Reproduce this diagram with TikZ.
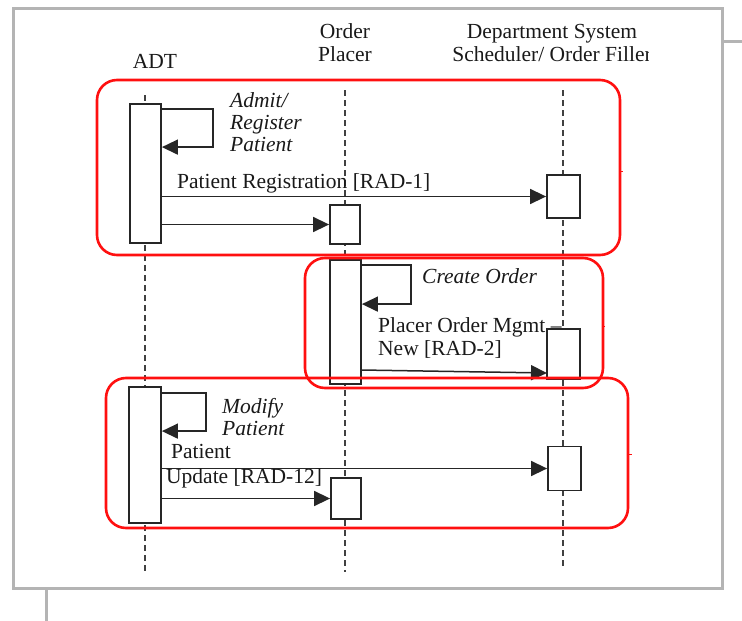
\documentclass[tikz,border=0pt]{standalone}
\usepackage{fontspec}
\setmainfont{Liberation Serif}
\usetikzlibrary{arrows.meta}
\definecolor{framegray}{HTML}{B4B4B4}
\definecolor{redbox}{HTML}{FF1010}
\begin{document}
\begin{tikzpicture}[x=1pt,y=-1pt,
  lifeline/.style={draw=black!75, line width=1.2pt, dash pattern=on 6pt off 4pt},
  act/.style={draw=black!85, line width=1.8pt, fill=white, inner sep=0pt},
  msg/.style={draw=black!85, line width=1.5pt, -{Triangle[length=16pt,width=15pt]}},
  grp/.style={draw=redbox, line width=2.6pt, rounded corners=20pt},
  lbl/.style={font=\fontsize{21.5}{23}\selectfont, inner sep=0pt, align=left, anchor=west, text=black!90},
  ilbl/.style={lbl, font=\fontsize{21.5}{22}\selectfont\itshape},
  hdr/.style={font=\fontsize{21.5}{23}\selectfont, inner sep=0pt, align=center, text=black!90},
]
\useasboundingbox (0,0) rectangle (742,621);
% outer gray frame
\draw[framegray, line width=3pt] (13,8) rectangle (722,588);
\coordinate (stubR1) at (722,41);
\coordinate (stubR2) at (742,41);
\coordinate (stubB1) at (46,588);
\coordinate (stubB2) at (46,621);
\draw[framegray, line width=3pt] (stubR1) -- (stubR2);
\draw[framegray, line width=3pt] (stubB1) -- (stubB2);

% headers
\node[hdr] (hadt) at (155,61) {ADT};
\node[hdr] (hop) at (345,43) {Order\\Placer};
\begin{scope}
\clip (430,15) rectangle (648,70);
\node[hdr] (hds) at (552,43) {Department System\\Scheduler/ Order Filler};
\end{scope}

% lifelines
\coordinate (adtT) at (145,95);  \coordinate (adtB) at (145,573);
\coordinate (opT) at (345,90);   \coordinate (opB) at (345,572);
\coordinate (dsT) at (563,90);   \coordinate (dsB) at (563,568);
\draw[lifeline] (adtT) -- (adtB);
\draw[lifeline] (opT) -- (opB);
\draw[lifeline] (dsT) -- (dsB);

% activation boxes
\node[act, minimum width=31pt, minimum height=139pt] (adt1) at (145.5,173.5) {};
\node[act, minimum width=30pt, minimum height=39pt] (op1) at (345,224.5) {};
\node[act, minimum width=33pt, minimum height=43pt] (ds1) at (563.5,196.5) {};
\node[act, minimum width=31pt, minimum height=124pt] (op2) at (345.5,322) {};
\node[act, minimum width=33pt, minimum height=50pt] (ds2) at (563.5,354) {};
\node[act, minimum width=32pt, minimum height=136pt] (adt2) at (145,455) {};
\node[act, minimum width=33pt, minimum height=44pt] (ds3) at (564.5,468.5) {};
\node[act, minimum width=30pt, minimum height=41pt] (op3) at (346,498.5) {};

% group 1
\draw[msg] ([yshift=-6pt]adt1.north east) -- ++(51,0) -- ++(0,38) -- ++(-51,0);
\node[ilbl] (l1) at (230,122) {Admit/\\Register\\Patient};
\draw[msg] (adt1.east |- ds1.center) -- (ds1.west);
\node[lbl] (l2) at (177,183) {Patient Registration [RAD-1]};
\draw[msg] (adt1.east |- op1.center) -- (op1.west);

% group 2
\draw[msg] ([yshift=-6pt]op2.north east) -- ++(49,0) -- ++(0,39) -- ++(-49,0);
\node[ilbl] (l3) at (422,276) {Create Order};
\coordinate (m2s) at (361,370);
\coordinate (m2e) at (547,373);
\draw[msg] (m2s) -- (m2e);
\node[lbl] (l4) at (378,338) {Placer Order Mgmt –\\New [RAD-2]};

% group 3
\draw[msg] ([yshift=-7pt]adt2.north east) -- ++(44,0) -- ++(0,38) -- ++(-44,0);
\node[ilbl] (l5) at (222,417) {Modify\\Patient};
\draw[msg] (adt2.east |- ds3.center) -- (ds3.west);
\node[lbl, anchor=base west] (l6a) at (171,458) {Patient};
\node[lbl, anchor=base west] (l6b) at (166,483) {Update [RAD-12]};
\draw[msg] (adt2.east |- op3.center) -- (op3.west);

% red groups
\draw[grp] (97,80) rectangle (620,255);
\draw[grp] (305,258) rectangle (603,388);
\draw[grp] (106,378) rectangle (628,528);
\coordinate (t1a) at (619,171); \coordinate (t1b) at (623,171);
\coordinate (t2a) at (602,326); \coordinate (t2b) at (605,326);
\coordinate (t3a) at (628,454); \coordinate (t3b) at (632,454);
\draw[redbox, line width=1pt] (t1a) -- (t1b);
\draw[redbox, line width=1pt] (t2a) -- (t2b);
\draw[redbox, line width=1pt] (t3a) -- (t3b);
\end{tikzpicture}
\end{document}
